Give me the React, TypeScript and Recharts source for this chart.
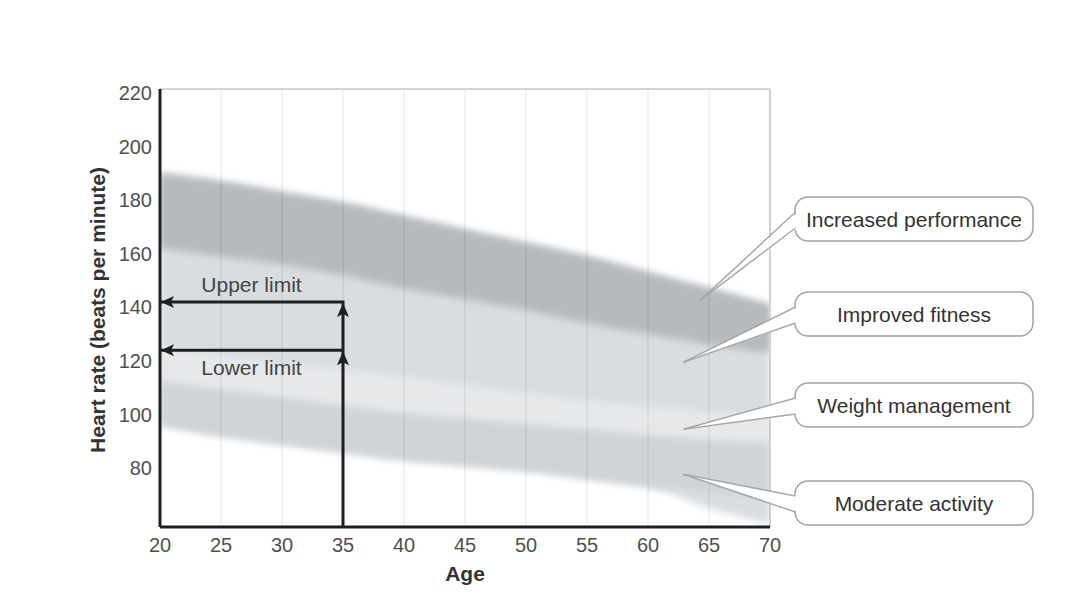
import React from 'react';
import {
  ComposedChart, Area, Line, XAxis, YAxis, ReferenceLine, ReferenceDot, Label,
} from 'recharts';

// heart rate zones, by age
const ages = [20, 25, 30, 35, 40, 45, 50, 55, 60, 65, 70];
const performanceTop = [190, 187, 183, 179, 174, 169, 164, 159, 153, 147, 141];
const performanceBottom = [162, 159, 156, 152, 147, 143, 139, 134, 130, 126, 123];
const fitnessBottom = [125, 122, 119, 117, 114, 111, 108, 105, 103, 101, 99];
const moderateTop = [112, 109, 106, 103, 100, 98, 96, 94, 92, 90, 89];
const moderateBottom = [96, 92, 89, 86, 83, 81, 79, 76, 73, 71, 69];
const fadeBottom = [96, 92, 89, 86, 83, 81, 79, 76, 73, 65, 59];

const yTicks = [80, 100, 120, 140, 160, 180, 200, 220];
const yMin = 58;
const yMax = 221.5;

// worked example at age 35
const limitAge = 35;
const upperLimit = 142;
const lowerLimit = 124;

const calloutLabels = ['Increased performance', 'Improved fitness', 'Weight management', 'Moderate activity'];
const calloutAges = [64.3, 62.9, 62.9, 62.9];
const calloutRates = [142.7, 119.5, 94.5, 77.7];
const calloutTops = [197, 292, 383, 481];

const INK = '#1f1f1f';
const FONT = '"Liberation Sans", Arial, Helvetica, sans-serif';

const bandRows = ages.map((age, i) => ({
  age,
  base: [fadeBottom[i], performanceTop[i]],
  weight: [moderateTop[i], fitnessBottom[i]],
  moderate: [moderateBottom[i], moderateTop[i]],
  performance: [performanceBottom[i], performanceTop[i]],
}));

const upperPath = [
  { age: ages[0], hr: upperLimit },
  { age: limitAge, hr: upperLimit },
  { age: limitAge, hr: yMin },
];
const lowerPath = [
  { age: ages[0], hr: lowerLimit },
  { age: limitAge, hr: lowerLimit },
];

const LeftHead = (p: any) => (
  <polygon points={`${p.cx + 1},${p.cy} ${p.cx + 14},${p.cy - 6} ${p.cx + 11},${p.cy} ${p.cx + 14},${p.cy + 6}`} fill={INK} />
);

const UpHead = (p: any) => (
  <polygon points={`${p.cx},${p.cy + 1} ${p.cx - 6},${p.cy + 15} ${p.cx},${p.cy + 12} ${p.cx + 6},${p.cy + 15}`} fill={INK} />
);

const LimitText = (p: any, text: string, dy: number) => (
  <text x={p.cx} y={p.cy + dy} textAnchor="middle" dominantBaseline="central" fontSize={21} fill="#444">
    {text}
  </text>
);

const Callout = (p: any, label: string, top: number) => {
  const left = 795;
  const width = 238;
  const height = 44;
  const y1 = top + 15;
  const y2 = top + 31;
  return (
    <g>
      <rect x={left} y={top} width={width} height={height} rx={13} fill="#fff" stroke="#a3a3a3" strokeWidth={1.5} />
      <polygon points={`${p.cx},${p.cy} ${left + 3},${y1} ${left + 3},${y2}`} fill="#fff" />
      <line x1={p.cx} y1={p.cy} x2={left + 0.5} y2={y1} stroke="#a8a8a8" strokeWidth={1.5} />
      <line x1={p.cx} y1={p.cy} x2={left + 0.5} y2={y2} stroke="#a8a8a8" strokeWidth={1.5} />
      <text x={left + width / 2} y={top + height / 2} textAnchor="middle" dominantBaseline="central" fontSize={21} fill="#333">
        {label}
      </text>
    </g>
  );
};

const YTitle = (props: any) => {
  const { viewBox } = props;
  const x = 97;
  const y = viewBox.y + viewBox.height / 2 + 2;
  return (
    <text x={x} y={y} transform={`rotate(-90, ${x}, ${y})`} textAnchor="middle" dominantBaseline="central"
      fontSize={21} fontWeight="bold" fill="#333">
      Heart rate (beats per minute)
    </text>
  );
};

export default function App() {
  return (
    <div style={{ position: 'absolute', left: 0, top: 0, width: 1080, height: 599, background: '#fff', fontFamily: FONT }}>
      <ComposedChart
        width={1080}
        height={599}
        data={bandRows}
        margin={{ top: 89, right: 310, bottom: 0, left: 0 }}
      >
        <defs>
          <filter id="bandBlur" filterUnits="userSpaceOnUse" x={161} y={89} width={609} height={438}>
            <feGaussianBlur stdDeviation={3.5} edgeMode="duplicate" />
          </filter>
        </defs>
        <XAxis
          dataKey="age"
          type="number"
          domain={[20, 70]}
          ticks={ages}
          allowDataOverflow
          tickLine={false}
          axisLine={{ stroke: INK, strokeWidth: 3 }}
          tick={{ fill: '#505050', fontSize: 20 }}
          tickMargin={5}
          height={72}
        >
          <Label value="Age" position="insideBottom" offset={18} fontSize={21} fontWeight="bold" fill="#333" />
        </XAxis>
        <YAxis
          type="number"
          domain={[yMin, yMax]}
          ticks={yTicks}
          allowDataOverflow
          tickLine={false}
          axisLine={{ stroke: INK, strokeWidth: 3 }}
          tick={{ fill: '#505050', fontSize: 20 }}
          width={160}
        >
          <Label content={YTitle} />
        </YAxis>

        <Area dataKey="base" type="monotone" stroke="none" fill="#dadde0" fillOpacity={1} filter="url(#bandBlur)" isAnimationActive={false} activeDot={false} />
        <Area dataKey="weight" type="monotone" stroke="none" fill="#e6e8ea" fillOpacity={1} filter="url(#bandBlur)" isAnimationActive={false} activeDot={false} />
        <Area dataKey="moderate" type="monotone" stroke="none" fill="#d1d4d7" fillOpacity={1} filter="url(#bandBlur)" isAnimationActive={false} activeDot={false} />
        <Area dataKey="performance" type="monotone" stroke="none" fill="#b7babd" fillOpacity={1} filter="url(#bandBlur)" isAnimationActive={false} activeDot={false} />

        {ages.slice(1, -1).map((a) => (
          <ReferenceLine key={a} x={a} stroke="rgba(0,0,0,0.1)" strokeWidth={1} />
        ))}
        <ReferenceLine x={70} stroke="#d0d0d0" strokeWidth={2} />
        <ReferenceLine y={yMax} stroke="#d4d4d4" strokeWidth={2} />

        <Line data={upperPath} dataKey="hr" stroke={INK} strokeWidth={3} dot={false} activeDot={false} isAnimationActive={false} type="linear" />
        <Line data={lowerPath} dataKey="hr" stroke={INK} strokeWidth={3} dot={false} activeDot={false} isAnimationActive={false} type="linear" />

        <ReferenceDot x={ages[0]} y={upperLimit} r={0} ifOverflow="visible" shape={LeftHead} />
        <ReferenceDot x={ages[0]} y={lowerLimit} r={0} ifOverflow="visible" shape={LeftHead} />
        <ReferenceDot x={limitAge} y={upperLimit} r={0} ifOverflow="visible" shape={UpHead} />
        <ReferenceDot x={limitAge} y={lowerLimit} r={0} ifOverflow="visible" shape={UpHead} />
        <ReferenceDot x={(ages[0] + limitAge) / 2} y={upperLimit} r={0} ifOverflow="visible" shape={(p: any) => LimitText(p, 'Upper limit', -17)} />
        <ReferenceDot x={(ages[0] + limitAge) / 2} y={lowerLimit} r={0} ifOverflow="visible" shape={(p: any) => LimitText(p, 'Lower limit', 17)} />

        {calloutLabels.map((label, i) => (
          <ReferenceDot
            key={label}
            x={calloutAges[i]}
            y={calloutRates[i]}
            r={0}
            ifOverflow="visible"
            shape={(p: any) => Callout(p, label, calloutTops[i])}
          />
        ))}
      </ComposedChart>
    </div>
  );
}
